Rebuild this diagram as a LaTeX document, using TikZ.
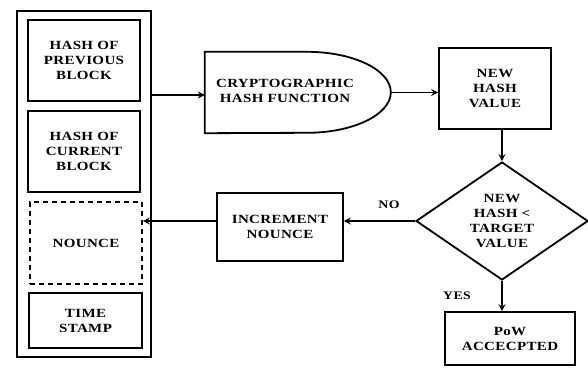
\documentclass[tikz,border=0pt]{standalone}
\usepackage{fontspec}
\setmainfont{Liberation Serif}[FakeStretch=1.2, LetterSpace=3]
\usetikzlibrary{arrows.meta,shapes.geometric}
\begin{document}
\begin{tikzpicture}[x=1pt,y=1pt,
  every node/.style={font=\bfseries\fontsize{12.5}{15}\selectfont, align=center, inner sep=0pt},
  box/.style={draw, line width=1.8pt, rectangle, minimum width=#1},
  box/.default=112pt,
  dashbox/.style={draw, line width=1.8pt, dash pattern=on 5pt off 4pt, rectangle},
  conn/.style={line width=1.5pt, -{Stealth[length=7pt,width=7pt,inset=2.5pt]}},
  lbl/.style={font=\bfseries\fontsize{11.5}{13}\selectfont}]
\useasboundingbox (0,0) rectangle (588,367);

% block contents
\node[box, minimum height=346pt, minimum width=134pt] (block) at (84,183) {};
\node[box, minimum height=81pt] (prev) at (84,306.5) {HASH OF\\PREVIOUS\\BLOCK};
\node[box, minimum height=81pt] (curr) at (84,215.5) {HASH OF\\CURRENT\\BLOCK};
\node[dashbox, minimum width=112pt, minimum height=82pt] (nounce) at (86,124) {NOUNCE};
\node[box, minimum width=113pt, minimum height=55pt] (time) at (85.5,46.5) {TIME\\STAMP};

% hash function (flat left side, rounded right side)
\node[minimum width=186pt, minimum height=81pt] (crypto) at (298,274.5) {};
\node at (285,276) {CRYPTOGRAPHIC\\HASH FUNCTION};
\draw[line width=1.8pt] (crypto.south west) -- (crypto.north west) -- ++(102,0)
  arc[start angle=90, end angle=-90, x radius=84pt, y radius=40.5pt] -- cycle;

\node[box, minimum height=81pt] (newhash) at (495,278.5) {NEW\\HASH\\VALUE};
\node[draw, line width=1.8pt, diamond, minimum width=172pt, minimum height=118pt] (check) at (502,146) {NEW\\HASH <\\TARGET\\VALUE};
\node[box, minimum width=126pt, minimum height=68pt] (incr) at (280,140) {INCREMENT\\NOUNCE};
\node[box, minimum width=130pt, minimum height=53pt] (pow) at (510,28.5) {PoW\\ACCECPTED};

% connectors
\draw[conn] (block.east |- 0,272) -- (crypto.west |- 0,272);
\draw[conn] (crypto.east) -- (newhash.west |- crypto.east);
\draw[conn] (newhash.south -| check.north) -- (check.north);
\draw[conn] (check.south) -- (pow.north -| check.south);
\draw[conn] (check.west) -- (incr.east |- check.west);
\draw[conn] (incr.west |- check.west) -- (nounce.east |- check.west);

\node[lbl] (no) at (389,162) {NO};
\node[lbl] (yes) at (457,71) {YES};
\end{tikzpicture}
\end{document}
